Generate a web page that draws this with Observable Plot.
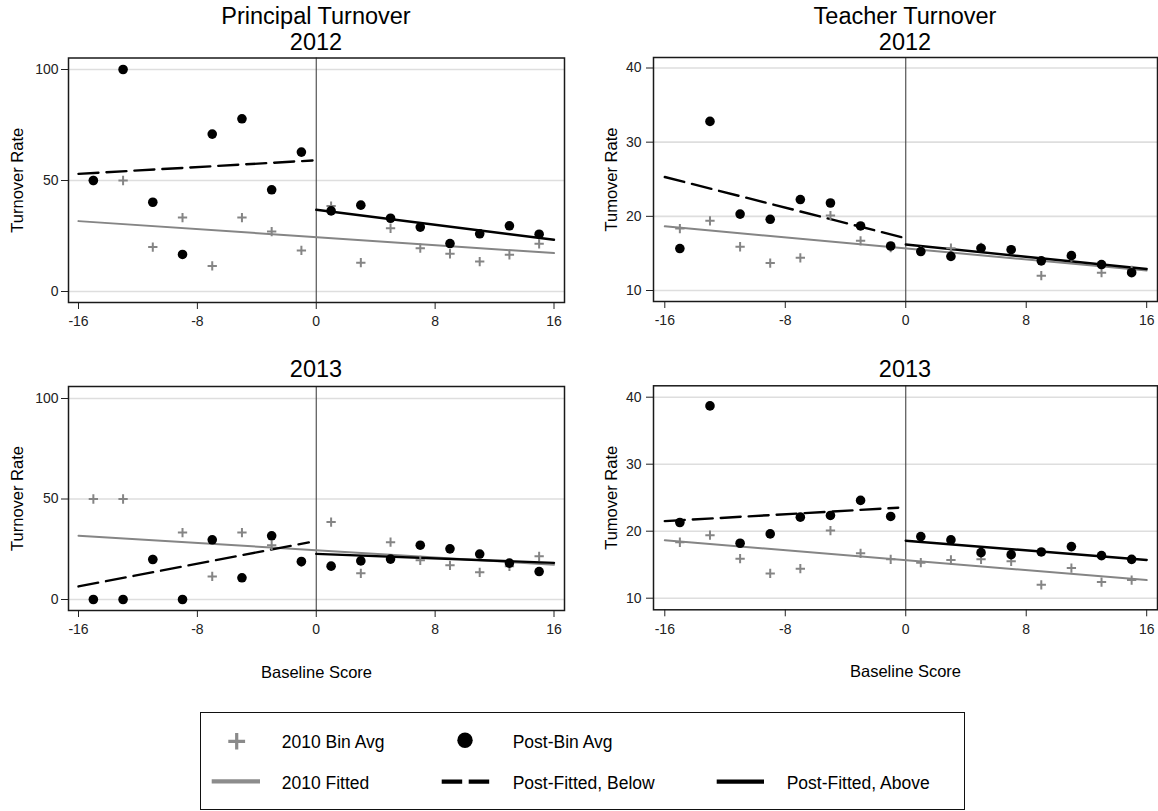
<!DOCTYPE html>
<html><head><meta charset="utf-8">
<script src="https://cdn.jsdelivr.net/npm/d3@7"></script>
<script src="https://cdn.jsdelivr.net/npm/@observablehq/plot@0.6"></script>
<style>
body{margin:0;background:#fff;font-family:"Liberation Sans",Arial,sans-serif;}
#root{position:relative;width:1158px;height:811px;overflow:hidden;background:#fff;}
.title{position:absolute;text-align:center;font-size:23.5px;line-height:26.3px;height:26.3px;color:#000;width:400px;white-space:nowrap;}
.panel{position:absolute;}
.lg{position:absolute;font-size:17.5px;line-height:20px;color:#000;white-space:nowrap;}
#legendbox{position:absolute;left:200px;top:712px;width:763px;height:96px;border:1.3px solid #111;}
</style></head><body><div id="root"></div>
<script>
// ---- data ----
const bins = [-15, -13, -11, -9, -7, -5, -3, -1, 1, 3, 5, 7, 9, 11, 13, 15];
const xTicks = [-16, -8, 0, 8, 16];
const principalTicks = [0, 50, 100];
const teacherTicks = [10, 20, 30, 40];

const principal2010 = [50, 50, 20, 33.3, 11.5, 33.3, 27, 18.5, 38.5, 13, 28.5, 19.5, 17, 13.5, 16.5, 21.5];
const principalPost2012 = [50, 100, 40.2, 16.7, 70.9, 77.8, 45.8, 62.8, 36.3, 38.9, 33, 29, 21.6, 26, 29.6, 25.8];
const principalPost2013 = [0, 0, 19.9, 0, 29.7, 10.8, 31.7, 18.9, 16.6, 19.2, 20.1, 27, 25.2, 22.6, 18.1, 13.9];
const teacher2010 = [18.35, 19.4, 15.9, 13.7, 14.4, 20.1, 16.7, 15.8, 15.3, 15.7, 15.8, 15.5, 12.0, 14.5, 12.4, 12.7];
const teacherPost2012 = [15.66, 32.8, 20.3, 19.6, 22.26, 21.8, 18.7, 16.0, 15.25, 14.6, 15.7, 15.5, 14.0, 14.7, 13.5, 12.4];
const teacherPost2013 = [21.3, 38.7, 18.2, 19.6, 22.1, 22.35, 24.6, 22.2, 19.2, 18.7, 16.8, 16.5, 16.9, 17.7, 16.35, 15.8];

// fitted line endpoints
const fit2010X = [-16, 16];
const principalFit2010 = [31.7, 17.3];
const teacherFit2010 = [18.65, 12.7];
const principal2012BelowX = [-16, -0.25], principal2012Below = [53.0, 59.0];
const principal2012AboveX = [0, 16], principal2012Above = [36.8, 23.3];
const principal2013BelowX = [-16, -0.5], principal2013Below = [6.5, 28.4];
const principal2013AboveX = [0, 16], principal2013Above = [22.7, 18.2];
const teacher2012BelowX = [-16, -0.1], teacher2012Below = [25.3, 17.1];
const teacher2012AboveX = [0, 16], teacher2012Above = [16.2, 12.9];
const teacher2013BelowX = [-16, -0.5], teacher2013Below = [21.5, 23.5];
const teacher2013AboveX = [0, 16], teacher2013Above = [18.58, 15.7];

const legendLabels = ["2010 Bin Avg", "Post-Bin Avg", "2010 Fitted", "Post-Fitted, Below", "Post-Fitted, Above"];

// ---- helpers ----
const GREY = "#858585";
const zip = (xs, ys) => xs.map((x, i) => ({x, y: ys[i]}));
const root = document.getElementById("root");

function addTitle(text, cx, top) {
  const d = document.createElement("div");
  d.className = "title";
  d.style.left = (cx - 200) + "px";
  d.style.top = top + "px";
  d.textContent = text;
  root.appendChild(d);
}

function panel(o) {
  const marks = [
    Plot.gridY(o.yTicks, {stroke: "#dedede", strokeOpacity: 1, strokeWidth: 1.6}),
    Plot.ruleX([0], {stroke: "#444", strokeWidth: 1.1}),
    Plot.line(zip(fit2010X, o.fit2010), {x: "x", y: "y", stroke: GREY, strokeWidth: 2}),
    Plot.line(zip(o.belowX, o.below), {x: "x", y: "y", stroke: "#000", strokeWidth: 2.4, strokeDasharray: "20,8"}),
    Plot.line(zip(o.aboveX, o.above), {x: "x", y: "y", stroke: "#000", strokeWidth: 2.4}),
    Plot.dot(zip(bins, o.base), {x: "x", y: "y", symbol: "plus", r: 3.1, stroke: GREY, strokeWidth: 2}),
    Plot.dot(zip(bins, o.post), {x: "x", y: "y", r: 4.8, fill: "#000", stroke: "none"}),
    Plot.frame({stroke: "#1a1a1a", strokeWidth: 1.5}),
    Plot.text([o.yLabel], {frameAnchor: "left", dx: o.yLabelDx, rotate: -90, fontSize: 16.5, textAnchor: "middle", lineAnchor: "middle", fill: "#000"})
  ];
  if (o.xLabel) {
    marks.push(Plot.text([o.xLabel], {frameAnchor: "bottom", dy: 62, fontSize: 16.5, textAnchor: "middle", lineAnchor: "middle", fill: "#000"}));
  }
  const svg = Plot.plot({
    width: o.width, height: o.height,
    marginLeft: o.ml, marginRight: o.mr, marginTop: o.mt, marginBottom: o.mb,
    insetLeft: o.il, insetRight: o.ir, insetTop: o.it, insetBottom: o.ib,
    x: {domain: [-16, 16], ticks: xTicks, tickSize: 7, tickPadding: 7, label: null, tickFormat: d => String(d)},
    y: {domain: o.yDomain, ticks: o.yTicks, tickSize: 7, tickPadding: o.ytp, label: null, tickFormat: d => String(d)},
    style: {fontFamily: "'Liberation Sans', Arial, sans-serif", fontSize: "14px", color: "#222", background: "white", overflow: "visible"},
    marks
  });
  const wrap = document.createElement("div");
  wrap.className = "panel";
  wrap.style.left = o.left + "px";
  wrap.style.top = o.top + "px";
  wrap.appendChild(svg);
  root.appendChild(wrap);
}

// ---- titles ----
addTitle("Principal Turnover", 316, 2.7);
addTitle("2012", 316, 29.2);
addTitle("Teacher Turnover", 905, 2.7);
addTitle("2012", 905, 29.2);
addTitle("2013", 316, 356);
addTitle("2013", 905, 356);

// ---- panels ----
panel({left: 0, top: 52, width: 580, height: 300, ml: 68, mr: 16, mt: 5.5, mb: 50,
  il: 10, ir: 10.5, it: 11.5, ib: 11, ytp: 3,
  yDomain: [0, 100], yTicks: principalTicks, yLabel: "Turnover Rate", yLabelDx: -51,
  base: principal2010, post: principalPost2012, fit2010: principalFit2010,
  belowX: principal2012BelowX, below: principal2012Below, aboveX: principal2012AboveX, above: principal2012Above});

panel({left: 580, top: 52, width: 578, height: 300, ml: 73, mr: 1, mt: 5, mb: 51,
  il: 11.3, ir: 10.8, it: 10.5, ib: 11, ytp: 5,
  yDomain: [10, 40], yTicks: teacherTicks, yLabel: "Tumover Rate", yLabelDx: -42,
  base: teacher2010, post: teacherPost2012, fit2010: teacherFit2010,
  belowX: teacher2012BelowX, below: teacher2012Below, aboveX: teacher2012AboveX, above: teacher2012Above});

panel({left: 0, top: 380, width: 580, height: 310, ml: 68, mr: 16, mt: 6, mb: 80,
  il: 10, ir: 10.5, it: 12, ib: 11, ytp: 3,
  yDomain: [0, 100], yTicks: principalTicks, yLabel: "Turnover Rate", yLabelDx: -51, xLabel: "Baseline Score",
  base: principal2010, post: principalPost2013, fit2010: principalFit2010,
  belowX: principal2013BelowX, below: principal2013Below, aboveX: principal2013AboveX, above: principal2013Above});

panel({left: 580, top: 380, width: 578, height: 310, ml: 73, mr: 1, mt: 5.3, mb: 80.7,
  il: 11.3, ir: 10.8, it: 11.4, ib: 11.6, ytp: 5,
  yDomain: [10, 40], yTicks: teacherTicks, yLabel: "Tumover Rate", yLabelDx: -42, xLabel: "Baseline Score",
  base: teacher2010, post: teacherPost2013, fit2010: teacherFit2010,
  belowX: teacher2013BelowX, below: teacher2013Below, aboveX: teacher2013AboveX, above: teacher2013Above});

// ---- legend ----
const box = document.createElement("div");
box.id = "legendbox";
root.appendChild(box);

const ns = "http://www.w3.org/2000/svg";
const lsvg = document.createElementNS(ns, "svg");
lsvg.setAttribute("width", 1158); lsvg.setAttribute("height", 811);
lsvg.style.position = "absolute"; lsvg.style.left = "0"; lsvg.style.top = "0"; lsvg.style.pointerEvents = "none";
function el(tag, attrs) { const e = document.createElementNS(ns, tag); for (const k in attrs) e.setAttribute(k, attrs[k]); lsvg.appendChild(e); }
el("path", {d: "M228.3,741.3H245.1M236.7,733.1V749.5", stroke: "#8a8a8a", "stroke-width": 3.2, fill: "none"});
el("circle", {cx: 465, cy: 740.3, r: 7.7, fill: "#000"});
el("line", {x1: 211.7, x2: 260, y1: 781.3, y2: 781.3, stroke: "#8c8c8c", "stroke-width": 4.2});
el("line", {x1: 441.7, x2: 490, y1: 781.7, y2: 781.7, stroke: "#000", "stroke-width": 4.2, "stroke-dasharray": "20.5,6.5"});
el("line", {x1: 716.7, x2: 764, y1: 781.7, y2: 781.7, stroke: "#000", "stroke-width": 4.2});
root.appendChild(lsvg);

const lgPos = [[281.7, 732.2], [512.7, 732.2], [281.7, 773.2], [512.7, 773.2], [786.7, 773.2]];
legendLabels.forEach((t, i) => {
  const s = document.createElement("div");
  s.className = "lg";
  s.style.left = lgPos[i][0] + "px";
  s.style.top = lgPos[i][1] + "px";
  s.textContent = t;
  root.appendChild(s);
});
</script>
</body></html>
